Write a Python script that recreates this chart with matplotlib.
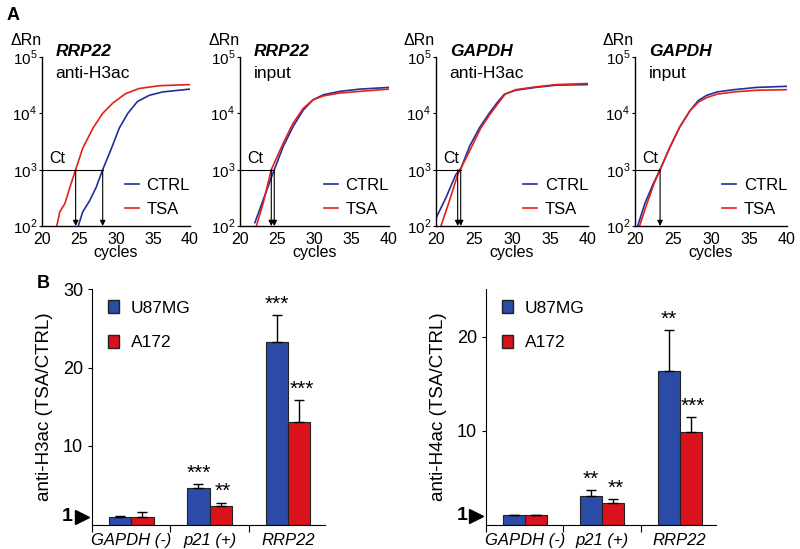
import matplotlib
matplotlib.use("Agg")
import matplotlib.pyplot as plt
import matplotlib.transforms as mtransforms
from matplotlib.patches import Patch
import numpy as np

plt.rcParams['font.family'] = ['Liberation Sans', 'DejaVu Sans']
plt.rcParams['mathtext.fontset'] = 'custom'
plt.rcParams['mathtext.rm'] = 'Liberation Sans'

BLUE_LINE = '#1f2f9c'
RED_LINE = '#e3201b'
BLUE_BAR = '#2b4ba6'
RED_BAR = '#d9121b'

# ---- Panel A: amplification curves (cycle, log10 dRn) ----
genes = ['RRP22', 'RRP22', 'GAPDH', 'GAPDH']
chip = ['anti-H3ac', 'input', 'anti-H3ac', 'input']

ctrl_cyc = [
    [24.9, 25.5, 26.4, 27.3, 28.2, 29.3, 30.45, 31.6, 32.9, 34.5, 36.3, 40.0],
    [22.0, 23.1, 24.6, 25.8, 27.1, 28.5, 29.8, 31.2, 33.4, 36.1, 40.0],
    [20.0, 21.3, 22.6, 23.3, 24.4, 25.7, 27.0, 28.1, 29.0, 30.5, 33.1, 35.8, 40.0],
    [20.35, 21.3, 22.4, 23.3, 24.6, 25.9, 27.25, 28.35, 29.45, 30.8, 33.0, 36.0, 40.0],
]
ctrl_log = [
    [2.0, 2.25, 2.44, 2.68, 3.0, 3.35, 3.74, 4.0, 4.21, 4.32, 4.38, 4.43],
    [2.06, 2.46, 3.0, 3.41, 3.76, 4.06, 4.24, 4.33, 4.39, 4.43, 4.46],
    [2.14, 2.5, 2.91, 3.03, 3.41, 3.74, 4.0, 4.2, 4.34, 4.41, 4.46, 4.5, 4.51],
    [2.0, 2.4, 2.75, 3.0, 3.4, 3.76, 4.05, 4.23, 4.32, 4.38, 4.42, 4.46, 4.48],
]
tsa_cyc = [
    [22.0, 22.4, 23.1, 23.75, 24.55, 25.5, 26.9, 28.2, 29.55, 31.3, 33.1, 35.8, 40.0],
    [22.2, 23.1, 24.2, 25.8, 27.1, 28.5, 29.8, 31.2, 33.4, 36.1, 40.0],
    [20.65, 21.75, 22.85, 23.3, 24.6, 25.9, 27.2, 28.3, 29.1, 30.5, 33.1, 35.8, 40.0],
    [20.6, 21.5, 22.5, 23.3, 24.6, 25.9, 27.25, 28.35, 29.45, 30.8, 33.0, 36.0, 40.0],
]
tsa_log = [
    [2.0, 2.25, 2.4, 2.68, 3.0, 3.38, 3.74, 4.0, 4.18, 4.35, 4.44, 4.49, 4.51],
    [2.0, 2.4, 3.0, 3.47, 3.82, 4.09, 4.24, 4.31, 4.36, 4.39, 4.43],
    [2.0, 2.44, 2.91, 3.03, 3.38, 3.74, 4.0, 4.2, 4.34, 4.42, 4.47, 4.51, 4.53],
    [2.0, 2.37, 2.75, 3.0, 3.4, 3.76, 4.05, 4.2, 4.28, 4.34, 4.38, 4.41, 4.42],
]
ct_values = [[24.55, 28.2], [24.2, 24.6], [22.85, 23.25], [23.3]]

# ---- Panel B: enrichment TSA/CTRL ----
categories = ['GAPDH (-)', 'p21 (+)', 'RRP22']
h3_u87 = [1.0, 4.6, 23.3]
h3_u87_err = [0.1, 0.55, 3.4]
h3_a172 = [0.95, 2.3, 13.0]
h3_a172_err = [0.65, 0.5, 2.8]
h3_u87_sig = ['', '***', '***']
h3_a172_sig = ['', '**', '***']

h4_u87 = [1.03, 3.08, 16.4]
h4_u87_err = [0.07, 0.62, 4.3]
h4_a172 = [1.03, 2.34, 9.93]
h4_a172_err = [0.07, 0.43, 1.53]
h4_u87_sig = ['', '**', '**']
h4_a172_sig = ['', '**', '***']

W, H = 800, 549
fig = plt.figure(figsize=(8.0, 5.49), dpi=100)


def px_axes(left, right, top, bottom):
    return fig.add_axes([left / W, 1 - bottom / H, (right - left) / W, (bottom - top) / H])


lefts = [42, 240, 436, 635]
rights = [190, 389, 588, 787]
for i in range(4):
    ax = px_axes(lefts[i], rights[i], 57, 226)
    ax.set_yscale('log')
    ax.plot(ctrl_cyc[i], 10 ** np.array(ctrl_log[i]), color=BLUE_LINE, lw=1.2, label='CTRL')
    ax.plot(tsa_cyc[i], 10 ** np.array(tsa_log[i]), color=RED_LINE, lw=1.2, label='TSA')
    ax.set_xlim(20, 40)
    ax.set_ylim(1e2, 1e5)
    ax.set_xticks([20, 25, 30, 35, 40])
    ax.set_yticks([1e2, 1e3, 1e4, 1e5])
    ax.set_yticklabels([r'$10^2$', r'$10^3$', r'$10^4$', r'$10^5$'])
    ax.minorticks_off()
    ax.tick_params(axis='y', labelsize=11, length=2, width=0.8, pad=1.5)
    ax.tick_params(axis='x', labelsize=11.5, length=0, pad=4)
    for s in ['top', 'right']:
        ax.spines[s].set_visible(False)
    for s in ['left', 'bottom']:
        ax.spines[s].set_linewidth(1.0)
    ax.set_xlabel('cycles', fontsize=11.5, labelpad=-1)
    # Ct threshold line and arrows
    ax.plot([20, max(ct_values[i])], [1e3, 1e3], color='black', lw=0.8)
    for ct in ct_values[i]:
        ax.annotate('', xy=(ct, 1e2), xytext=(ct, 1e3),
                    arrowprops=dict(arrowstyle='-|>', color='black', lw=0.8,
                                    mutation_scale=8, shrinkA=0, shrinkB=0))
    ax.text(21.0, 1.15e3, 'Ct', fontsize=11.5, ha='left', va='bottom')
    ax.text(0.09, 1.03, genes[i], transform=ax.transAxes, fontsize=12.5,
            fontweight='bold', fontstyle='italic', va='center', ha='left')
    ax.text(0.09, 0.9, chip[i], transform=ax.transAxes, fontsize=12.5,
            va='center', ha='left')
    ax.text(-0.11, 1.095, 'ΔRn', transform=ax.transAxes, fontsize=11.5,
            va='center', ha='center')
    ax.legend(loc='lower right', bbox_to_anchor=(1.1, -0.035), frameon=False,
              fontsize=12, handlelength=0.85, handletextpad=0.45, labelspacing=0.55)

fig.text(13 / W, 1 - 15 / H, 'A', fontsize=13, fontweight='bold', ha='center', va='center')
fig.text(43 / W, 1 - 283 / H, 'B', fontsize=13, fontweight='bold', ha='center', va='center')


def bar_panel(ax, u87, u87_err, a172, a172_err, u_sig, a_sig, ylabel, ymax, yticks):
    x = np.arange(len(categories))
    bw = 0.285
    ax.bar(x - bw / 2, u87, bw, color=BLUE_BAR, edgecolor='#222222', lw=0.8,
           yerr=[np.zeros(3), u87_err], error_kw=dict(ecolor='black', elinewidth=1, capsize=3.5, capthick=1))
    ax.bar(x + bw / 2, a172, bw, color=RED_BAR, edgecolor='#222222', lw=0.8,
           yerr=[np.zeros(3), a172_err], error_kw=dict(ecolor='black', elinewidth=1, capsize=3.5, capthick=1))
    for i in range(3):
        if u_sig[i]:
            ax.annotate(u_sig[i], (x[i] - bw / 2, u87[i] + u87_err[i]), xytext=(0, 1),
                        textcoords='offset points', ha='center', va='bottom', fontsize=15)
        if a_sig[i]:
            ax.annotate(a_sig[i], (x[i] + bw / 2 + 0.03, a172[i] + a172_err[i]), xytext=(0, 1),
                        textcoords='offset points', ha='center', va='bottom', fontsize=15)
    ax.set_xlim(-0.5, 2.47)
    ax.set_ylim(0, ymax)
    ax.set_yticks(yticks)
    ax.set_xticks(x)
    ax.set_xticklabels(categories, fontstyle='italic', fontsize=12)
    ax.set_xticks([-0.5, 0.5, 1.5], minor=True)
    ax.tick_params(axis='x', which='major', length=0, pad=6)
    ax.tick_params(axis='x', which='minor', length=5, width=0.8)
    ax.tick_params(axis='y', labelsize=13, length=3, width=0.8)
    for s in ['top', 'right']:
        ax.spines[s].set_visible(False)
    ax.set_ylabel(ylabel, fontsize=13.5, labelpad=7)
    trans = mtransforms.blended_transform_factory(ax.transAxes, ax.transData)
    ax.plot([-0.045], [1], marker='>', color='black', markersize=10, transform=trans, clip_on=False)
    ax.text(-0.105, 1, '1', fontsize=14, fontweight='bold', ha='center', va='center', transform=trans)
    handles = [Patch(facecolor=BLUE_BAR, edgecolor='#222222', label='U87MG'),
               Patch(facecolor=RED_BAR, edgecolor='#222222', label='A172')]
    ax.legend(handles=handles, loc='upper left', bbox_to_anchor=(0.0, 1.02), frameon=False,
              fontsize=12.5, handlelength=0.65, handleheight=0.8, handletextpad=0.7, labelspacing=1.1)


axl = px_axes(92, 325, 289, 524.5)
bar_panel(axl, h3_u87, h3_u87_err, h3_a172, h3_a172_err, h3_u87_sig, h3_a172_sig,
          'anti-H3ac (TSA/CTRL)', 30, [10, 20, 30])
axr = px_axes(486, 716, 289, 525)
bar_panel(axr, h4_u87, h4_u87_err, h4_a172, h4_a172_err, h4_u87_sig, h4_a172_sig,
          'anti-H4ac (TSA/CTRL)', 25.1, [10, 20])

fig.savefig('out.png', dpi=100)
